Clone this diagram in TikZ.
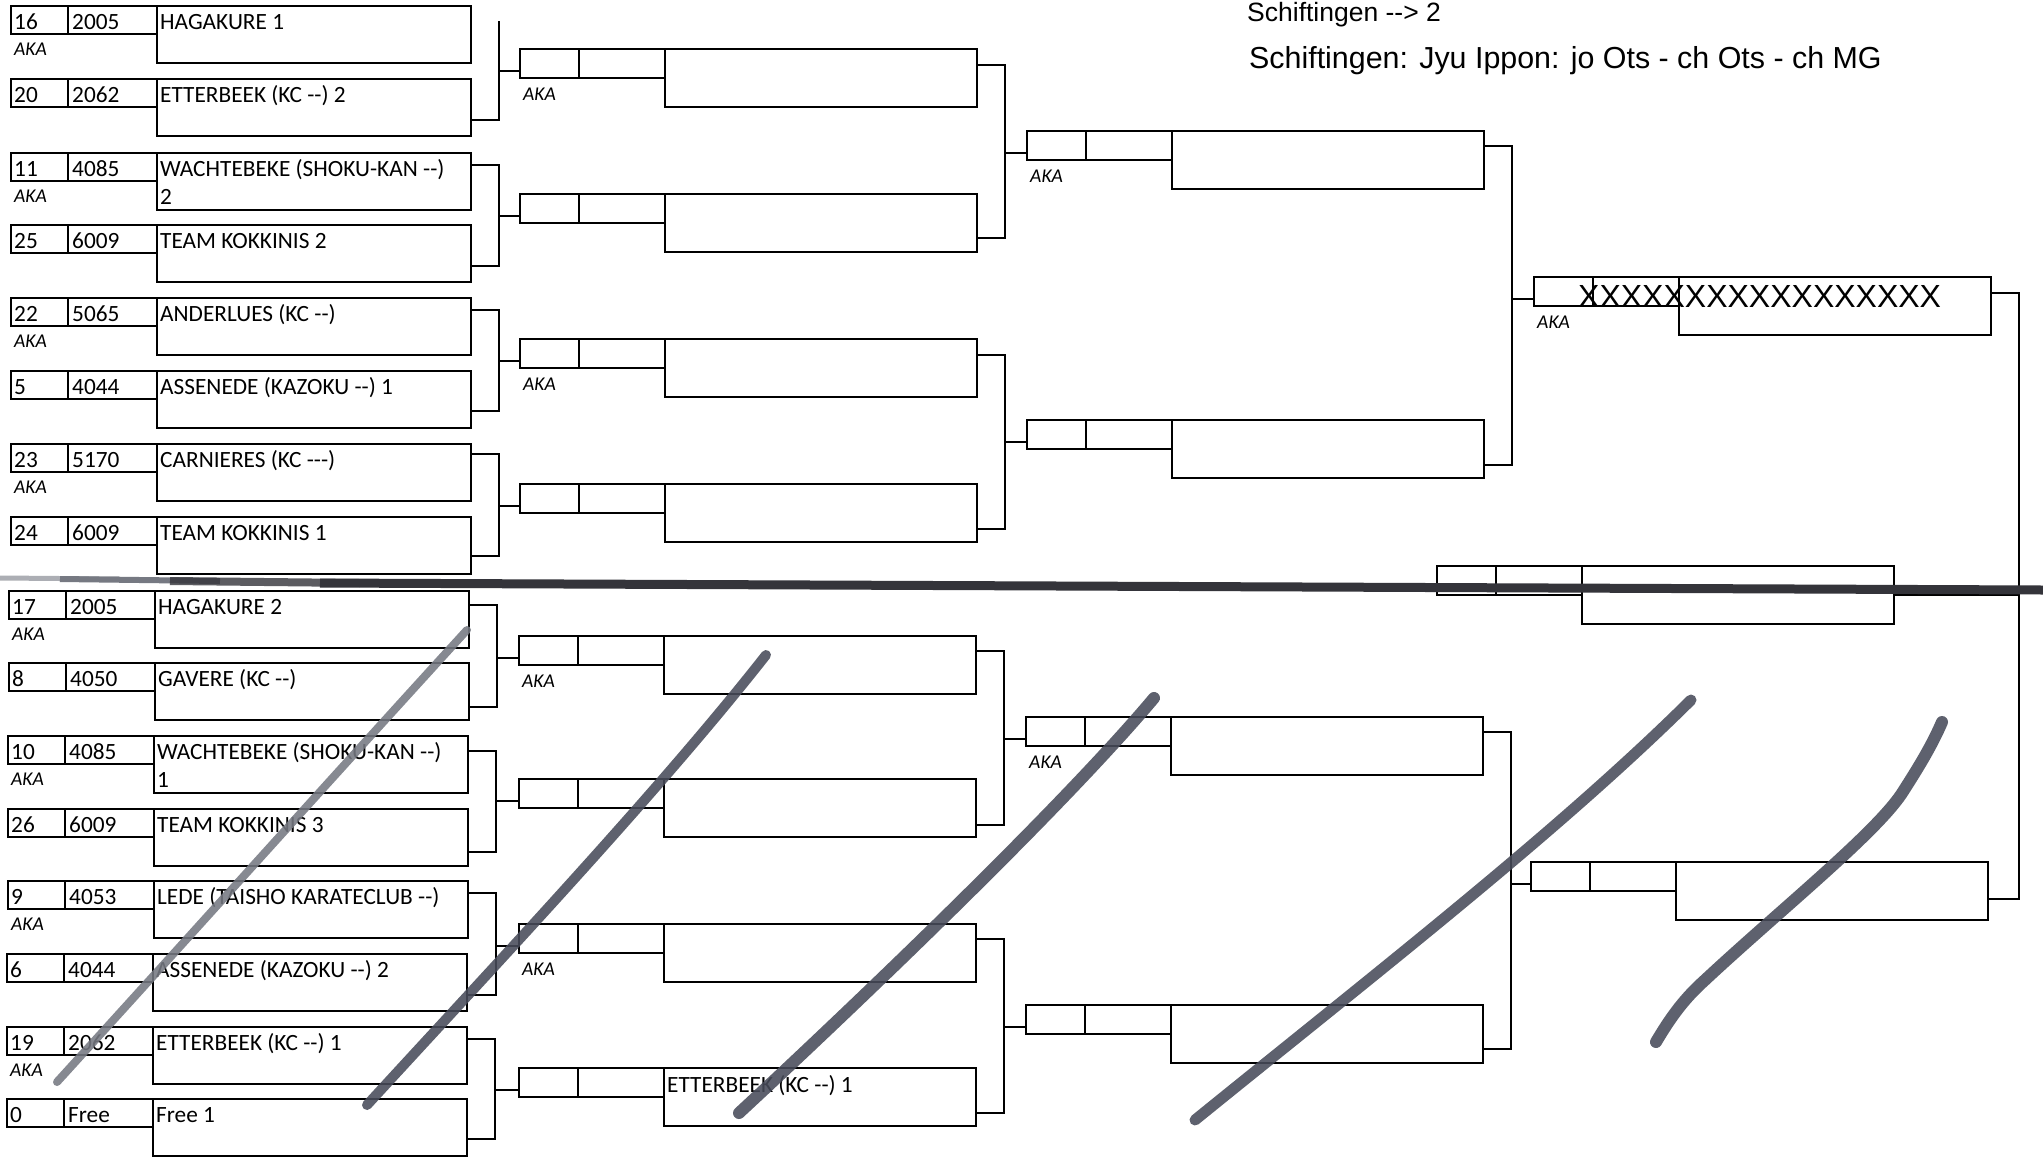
\documentclass[tikz,border=0pt]{standalone}
\usepackage{fontspec}
\setmainfont{Carlito}[Ligatures=TeXOff]
\newfontfamily\arialfont{Liberation Sans}[Ligatures=TeXOff]
\usetikzlibrary{calc}

\definecolor{pen}{RGB}{72,76,90}
\definecolor{penlight}{RGB}{118,121,130}
\definecolor{bar}{RGB}{52,52,58}

\tikzset{
  box/.style={draw, line width=1.8pt, anchor=north west, inner sep=0pt, outer sep=0pt},
  numbox/.style={box, minimum width=57pt, minimum height=28pt},
  codebox/.style={box, minimum width=89pt, minimum height=28pt},
  namebox/.style={box, minimum width=314pt, minimum height=57pt},
  seatbox/.style={box, minimum width=59pt, minimum height=29pt},
  pointbox/.style={box, minimum width=86pt, minimum height=29pt},
  winbox/.style={box, minimum width=312pt, minimum height=58pt},
  txt/.style={anchor=base west, inner sep=0pt, font=\fontsize{23.3}{28}\selectfont},
  aka/.style={anchor=base west, inner sep=0pt, font=\fontsize{19.5}{21}\selectfont\itshape},
  link/.style={line width=1.6pt},
  scrawl/.style={line width=#1, color=pen, line cap=round, line join=round, opacity=.88},
}

% one slot of a later round: seat, points, winner
\newcommand{\matchslot}[3]{%
  \node[seatbox] (#1a) at (#2,#3) {};
  \node[pointbox] (#1b) at (#1a.north east) {};
  \node[winbox] (#1) at (#1b.north east) {};
  \coordinate (#1-in) at ([shift={(0,22)}]#1a.north west);
}
\newcommand{\clubname}[1]{\begin{tabular}[t]{@{}l@{}}#1\end{tabular}}

\begin{document}
\begin{tikzpicture}[x=1pt, y=-1pt]

\fill[white] (0,0) rectangle (2043,1157);
\useasboundingbox (0,0) rectangle (2043,1157);

% first round
\foreach \id/\xx/\tp/\nr/\code/\club in {
  0/11/6/16/2005/HAGAKURE 1,
  1/11/79/20/2062/ETTERBEEK (KC --) 2,
  2/11/153/11/4085/{WACHTEBEKE (SHOKU-KAN --)\\2},
  3/11/225/25/6009/TEAM KOKKINIS 2,
  4/11/298/22/5065/ANDERLUES (KC --),
  5/11/371/5/4044/ASSENEDE (KAZOKU --) 1,
  6/11/444/23/5170/CARNIERES (KC ---),
  7/11/517/24/6009/TEAM KOKKINIS 1,
  8/9/591/17/2005/HAGAKURE 2,
  9/9/663/8/4050/GAVERE (KC --),
  10/8/736/10/4085/{WACHTEBEKE (SHOKU-KAN --)\\1},
  11/8/809/26/6009/TEAM KOKKINIS 3,
  12/8/881/9/4053/LEDE (TAISHO KARATECLUB --),
  13/7/954/6/4044/ASSENEDE (KAZOKU --) 2,
  14/7/1027/19/2062/ETTERBEEK (KC --) 1,
  15/7/1099/0/Free/Free 1}{
  \node[numbox] (n\id) at (\xx,\tp) {};
  \node[codebox] (c\id) at (n\id.north east) {};
  \node[namebox] (e\id) at (c\id.north east) {};
  \node[txt] (tn\id) at ([shift={(3,23)}]n\id.north west) {\nr};
  \node[txt] (tc\id) at ([shift={(4,23)}]c\id.north west) {\code};
  \node[txt] (te\id) at ([shift={(3,23)}]e\id.north west) {\clubname{\club}};
}
\foreach \id in {0,2,...,14}
  \node[aka] (ak\id) at ([shift={(3,49)}]n\id.north west) {AKA};

% later rounds
\matchslot{ra1}{520}{49}  \matchslot{ra2}{520}{194}
\matchslot{ra3}{520}{339} \matchslot{ra4}{520}{484}
\matchslot{rb1}{519}{636} \matchslot{rb2}{519}{779}
\matchslot{rb3}{519}{924} \matchslot{rb4}{519}{1068}
\matchslot{sa1}{1027}{131} \matchslot{sa2}{1027}{420}
\matchslot{sb1}{1026}{717} \matchslot{sb2}{1026}{1005}
\matchslot{ta}{1534}{277} \matchslot{tb}{1531}{862}
\matchslot{fin}{1437}{566}

\foreach \id in {ra1,ra3,rb1,rb3,sa1,sb1,ta}
  \node[aka] (ak\id) at ([shift={(3,51)}]\id a.north west) {AKA};

% connectors
\draw[link] ([shift={(28,15)}]e0.north east) coordinate (ra1-v) |- ([shift={(0,41)}]e1.north east);
\draw[link] (ra1-v |- ra1-in) -- (ra1-in);
\foreach \a/\b/\c/\p/\q in {e2/e3/ra2/12/41, e4/e5/ra3/12/40, e6/e7/ra4/10/39,
    e8/e9/rb1/14/44, e10/e11/rb2/15/43, e12/e13/rb3/12/41, e14/e15/rb4/12/40,
    ra1/ra2/sa1/16/44, ra3/ra4/sa2/16/45, rb1/rb2/sb1/15/46, rb3/rb4/sb2/15/45,
    sa1/sa2/ta/15/45, sb1/sb2/tb/15/44}{
  \draw[link] ([shift={(0,\p)}]\a.north east) -- ++(28,0) coordinate (\c-v) |- ([shift={(0,\q)}]\b.north east);
  \draw[link] (\c-v |- \c-in) -- (\c-in);
}
\draw[link] ([shift={(0,16)}]ta.north east) -- ++(28,0) coordinate (fin-v) |- ([shift={(0,37)}]tb.north east);
\draw[link] (fin-v |- fin.east) -- (fin.east);

% written in
\node[txt] (rb4t) at ([shift={(3,24)}]rb4.north west) {ETTERBEEK (KC --) 1};
\node[anchor=base west, inner sep=0pt, font=\arialfont\fontsize{32}{32}\selectfont] (xs) at (1578,307) {XXXXXXXXXXXXXXXXX};

% header
\node[anchor=base west, inner sep=0pt, font=\arialfont\fontsize{26.5}{28}\selectfont] (note) at (1247,21) {Schiftingen --> 2};
\node[anchor=base west, inner sep=0pt, font=\arialfont\fontsize{30.4}{34}\selectfont] (title) at (1249,68) {Schiftingen: Jyu Ippon: jo Ots - ch Ots - ch MG};

% marker line between the halves
\draw[line width=5pt, color=penlight, opacity=.6] (0,578) -- (120,579);
\draw[line width=6pt, color=penlight] (60,579) -- (220,581);
\draw[line width=8pt, color=bar, opacity=.8] (170,581) -- (360,583);
\draw[line width=9pt, color=bar] (320,583) -- (2043,590);

% pen strokes over the lower half
\draw[scrawl=8pt, color=penlight] (57,1082) .. controls (200,925) and (330,780) .. (467,630);
\draw[scrawl=10pt] (367,1105) .. controls (500,960) and (660,790) .. (766,655);
\draw[scrawl=12pt] (739,1113) .. controls (850,1010) and (1060,810) .. (1154,698);
\draw[scrawl=11pt] (1195,1120) .. controls (1380,970) and (1560,830) .. (1691,700);
\draw[scrawl=12pt] (1656,1042) .. controls (1672,1015) and (1685,998) .. (1705,980)
  .. controls (1780,910) and (1880,830) .. (1904,790) .. controls (1920,765) and (1932,745) .. (1942,722);

\end{tikzpicture}
\end{document}
